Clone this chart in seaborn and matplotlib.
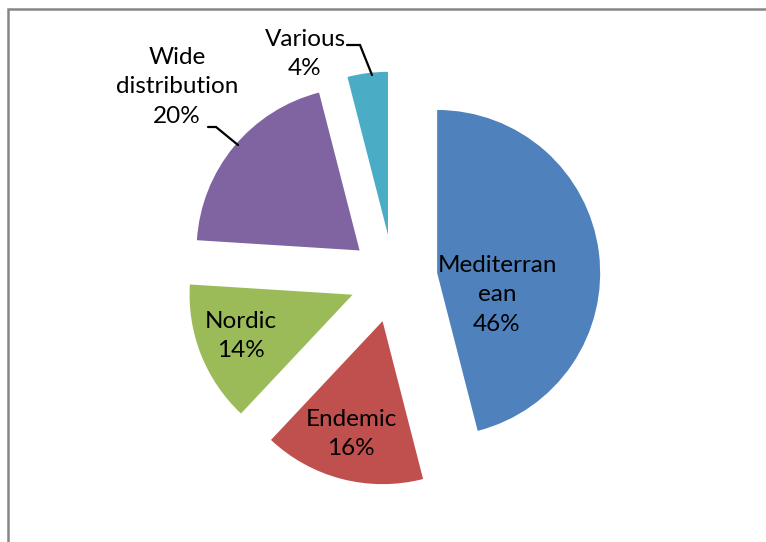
import matplotlib
matplotlib.use("Agg")
import matplotlib.pyplot as plt
import matplotlib.patches as mpatches
import seaborn as sns

# data
regions = ["Mediterranean", "Endemic", "Nordic", "Wide distribution", "Various"]
shares = [46, 16, 14, 20, 4]
label_texts = ["Mediterran\nean\n46%", "Endemic\n16%", "Nordic\n14%",
               "Wide\ndistribution\n20%", "Various\n4%"]
colors = ["#4F81BD", "#C0504D", "#9BBB59", "#8064A2", "#4BACC6"]

sns.set_theme(style="white")
plt.rcParams['font.family'] = ['Lato', 'DejaVu Sans']

W, H = 766, 542
R = 163.0          # pie radius in pixels
cx, cy = 393.5, 278.5  # pie centre in pixels (from top-left)


def px(x, y):
    # pixel position -> data coordinates
    return (x - cx) / R, (cy - y) / R


fig = plt.figure(figsize=(W / 100, H / 100), dpi=100)
ax = fig.add_axes([0, 0, 1, 1])

wedges, _ = ax.pie(shares, colors=sns.color_palette(colors), startangle=90,
                   counterclock=False, explode=[0.27] * len(shares),
                   wedgeprops=dict(linewidth=0))
ax.set_xlim(-cx / R, (W - cx) / R)
ax.set_ylim(-(H - cy) / R, cy / R)
ax.axis("off")

# label positions (pixels)
label_pos = [(497, 295), (351, 434), (241, 336), (177, 87), (305, 54)]
for txt, (x, y) in zip(label_texts, label_pos):
    ax.text(*px(x, y), txt, ha="center", va="center", fontsize=17.5,
            linespacing=1.5, color="black")

# leader lines
for pts in [[(208, 127), (216, 127), (238, 145)],
            [(347, 45), (360, 45), (372, 75)]]:
    xs, ys = zip(*[px(*p) for p in pts])
    ax.plot(xs, ys, color="black", lw=1.6, solid_joinstyle="miter")

# chart frame
fig.patches.append(mpatches.Rectangle((8 / W, -0.1), 1.2, 1 - 9 / H + 0.1,
                                      transform=fig.transFigure, fill=False,
                                      edgecolor="#868686", lw=1.8))

fig.savefig("out.png", dpi=100)
